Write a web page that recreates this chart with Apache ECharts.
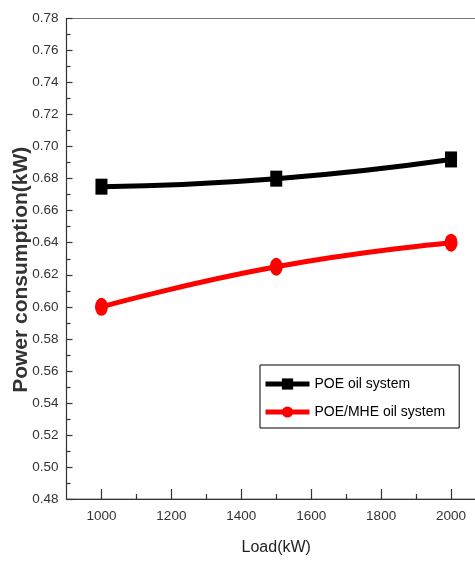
<!DOCTYPE html>
<html>
<head>
<meta charset="utf-8">
<script src="https://cdn.jsdelivr.net/npm/echarts@6/dist/echarts.min.js"></script>
<style>
html,body{margin:0;padding:0;overflow:hidden;background:#fff;width:475px;height:563px;}
#c{width:486px;height:563px;}
</style>
</head>
<body>
<div id="c"></div>
<script>
var loads = [1000, 1500, 2000];
var poe = [0.675, 0.680, 0.692];
var poeMhe = [0.600, 0.625, 0.640];
var xMajorTicks = [1000, 1200, 1400, 1600, 1800, 2000];
var xMinorTicks = [1100, 1300, 1500, 1700, 1900];
var seriesNames = ['POE oil system', 'POE/MHE oil system'];

var chart = echarts.init(document.getElementById('c'), null, {renderer: 'canvas'});
var sans = "'Liberation Sans', Arial, sans-serif";
var axisCol = '#333';

function pairs(xs, ys) { return xs.map(function (x, i) { return [x, ys[i]]; }); }

chart.setOption({
  animation: false,
  backgroundColor: '#fff',
  grid: {left: 66.5, top: 18.5, right: 0, bottom: 64, containLabel: false, outerBoundsMode: 'none',
         show: true, borderColor: '#777', borderWidth: 1, backgroundColor: 'transparent'},
  legend: {
    orient: 'vertical', left: 260, top: 365,
    data: seriesNames,
    itemWidth: 44, itemHeight: 14, itemGap: 14, itemTextGap: 3,
    padding: [12, 14, 9, 3],
    borderColor: '#000', borderWidth: 1, backgroundColor: '#fff',
    lineStyle: {width: 5},
    textStyle: {fontFamily: sans, fontSize: 14, color: '#000'}
  },
  xAxis: [{
    type: 'value', min: 900, max: 2100, position: 'bottom',
    name: 'Load(kW)', nameLocation: 'middle', nameGap: 41, nameMoveOverlap: false,
    nameTextStyle: {fontFamily: sans, fontSize: 16, color: '#222'},
    axisLine: {show: true, lineStyle: {color: axisCol, width: 1.2}},
    axisTick: {show: true, inside: true, length: 10, customValues: xMajorTicks, lineStyle: {color: axisCol, width: 1.2}},
    axisLabel: {show: true, margin: 10, customValues: xMajorTicks, fontFamily: sans, fontSize: 13.5, color: '#333',
                formatter: function (v) { return String(v); }},
    splitLine: {show: false}
  }, {
    type: 'value', min: 900, max: 2100, position: 'bottom',
    axisLine: {show: false},
    axisTick: {show: true, inside: true, length: 5, customValues: xMinorTicks, lineStyle: {color: axisCol, width: 1.2}},
    axisLabel: {show: false},
    splitLine: {show: false}
  }],
  yAxis: {
    type: 'value', min: 0.48, max: 0.78, interval: 0.02,
    name: 'Power consumption(kW)', nameLocation: 'middle', nameGap: 35, nameMoveOverlap: false,
    nameTextStyle: {fontFamily: sans, fontSize: 21, fontWeight: 'bold', color: '#333', padding: [0, 22, 0, 0]},
    axisLine: {show: true, lineStyle: {color: axisCol, width: 1.2}},
    axisTick: {show: true, inside: true, length: 6, lineStyle: {color: axisCol, width: 1.2}},
    minorTick: {show: true, splitNumber: 2, length: 4, lineStyle: {color: axisCol, width: 1.2}},
    axisLabel: {margin: 8, fontFamily: sans, fontSize: 13.5, color: '#333', formatter: function (v) { return v.toFixed(2); }},
    splitLine: {show: false}
  },
  series: [{
    name: seriesNames[0], type: 'line', smooth: true,
    data: pairs(loads, poe),
    symbol: 'rect', symbolSize: [12, 16],
    lineStyle: {color: '#000', width: 5},
    itemStyle: {color: '#000'}
  }, {
    name: seriesNames[1], type: 'line', smooth: true,
    data: pairs(loads, poeMhe),
    symbol: 'circle', symbolSize: [13, 18],
    lineStyle: {color: '#ff0000', width: 5},
    itemStyle: {color: '#ff0000'}
  }]
});
</script>
</body>
</html>
